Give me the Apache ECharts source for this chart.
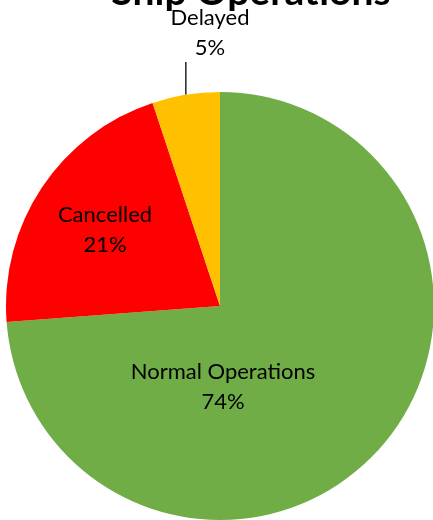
<!DOCTYPE html>
<html>
<head>
<meta charset="utf-8">
<script src="https://cdn.jsdelivr.net/npm/echarts@6/dist/echarts.min.js"></script>
<style>
  html, body { margin: 0; padding: 0; background: #fff; }
  #chart { width: 433px; height: 520px; }
</style>
</head>
<body>
<div id="chart"></div>
<script>
const titleText = 'Ship Operations';
const categories = ['Normal Operations', 'Cancelled', 'Delayed'];
const values = [73.8, 21.1, 5.1];
const colors = ['#70AD47', '#FF0000', '#FFC000'];

const labelSpots = [
  { x: 223, y: 387 },
  { x: 105, y: 230 },
  { x: 210, y: 33 }
];
const leaderTopY = 62;

const chart = echarts.init(document.getElementById('chart'), null, { renderer: 'canvas' });

const data = categories.map((c, i) => ({
  name: c,
  value: values[i],
  itemStyle: { color: colors[i] },
  label: { position: i === 2 ? 'outside' : 'inside' },
  labelLine: { show: i === 2, length: 33, length2: 0, lineStyle: { color: '#000', width: 1.3 } }
}));

chart.setOption({
  animation: false,
  title: {
    text: titleText,
    left: 246,
    top: -32,
    textAlign: 'center',
    textStyle: { fontFamily: 'Lato', fontWeight: 'bold', fontSize: 39, color: '#000' }
  },
  series: [{
    type: 'pie',
    center: [220, 306],
    radius: 214,
    startAngle: 90,
    clockwise: true,
    percentPrecision: 0,
    avoidLabelOverlap: false,
    itemStyle: { borderWidth: 0 },
    label: {
      show: true,
      formatter: '{b}\n{d}%',
      fontFamily: 'Lato',
      fontSize: 22,
      lineHeight: 30,
      color: '#000',
      align: 'center'
    },
    labelLayout: function (p) {
      const s = labelSpots[p.dataIndex];
      const out = { x: s.x, y: s.y, align: 'center', verticalAlign: 'middle' };
      if (p.labelLinePoints && p.labelLinePoints.length) {
        const a = p.labelLinePoints[0];
        out.labelLinePoints = [[a[0], a[1]], [a[0], leaderTopY], [a[0], leaderTopY]];
      }
      return out;
    },
    data: data
  }]
});
</script>
</body>
</html>
